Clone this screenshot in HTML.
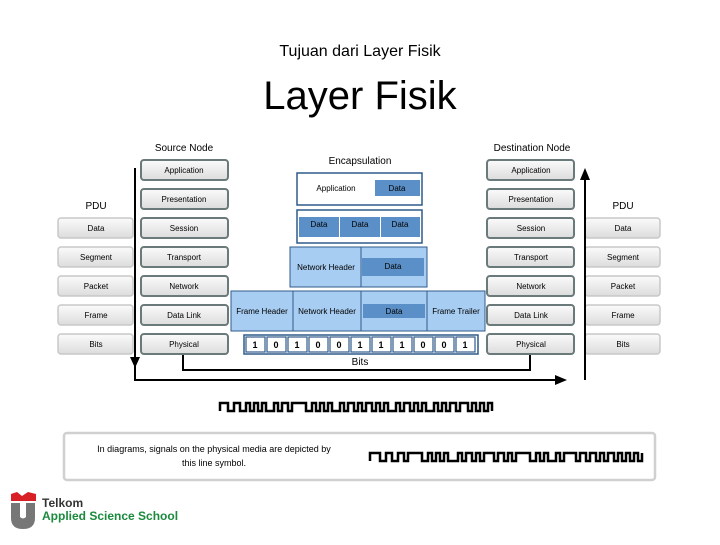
<!DOCTYPE html>
<html><head><meta charset="utf-8"><style>
body{margin:0;background:#fff;width:720px;height:540px;overflow:hidden;font-family:"Liberation Sans",sans-serif}
</style></head><body>
<svg width="720" height="540" xmlns="http://www.w3.org/2000/svg" font-family="Liberation Sans, sans-serif">
<defs>
<linearGradient id="g" x1="0" y1="0" x2="0" y2="1"><stop offset="0" stop-color="#fbfbfb"/><stop offset="1" stop-color="#dcdcdc"/></linearGradient>
</defs>
<text x="360" y="56" font-size="16" text-anchor="middle">Tujuan dari Layer Fisik</text>
<text x="360" y="109" font-size="40" text-anchor="middle">Layer Fisik</text>

<text x="184" y="151" font-size="10" text-anchor="middle">Source Node</text>
<text x="532" y="151" font-size="10" text-anchor="middle">Destination Node</text>
<text x="96" y="209" font-size="10" text-anchor="middle">PDU</text>
<text x="623" y="209" font-size="10" text-anchor="middle">PDU</text>
<text x="360" y="164" font-size="10" text-anchor="middle">Encapsulation</text>

<g font-size="8" text-anchor="middle">
<!-- layers -->
<g id="L">
<rect x="141" y="160" width="87" height="20" rx="3" fill="url(#g)" stroke="#6a7a7a" stroke-width="2"/>
<rect x="141" y="189" width="87" height="20" rx="3" fill="url(#g)" stroke="#6a7a7a" stroke-width="2"/>
<rect x="141" y="218" width="87" height="20" rx="3" fill="url(#g)" stroke="#6a7a7a" stroke-width="2"/>
<rect x="141" y="247" width="87" height="20" rx="3" fill="url(#g)" stroke="#6a7a7a" stroke-width="2"/>
<rect x="141" y="276" width="87" height="20" rx="3" fill="url(#g)" stroke="#6a7a7a" stroke-width="2"/>
<rect x="141" y="305" width="87" height="20" rx="3" fill="url(#g)" stroke="#6a7a7a" stroke-width="2"/>
<rect x="141" y="334" width="87" height="20" rx="3" fill="url(#g)" stroke="#6a7a7a" stroke-width="2"/>
</g>
<text x="184" y="173">Application</text><text x="184" y="202">Presentation</text><text x="184" y="231">Session</text><text x="184" y="260">Transport</text><text x="184" y="289">Network</text><text x="184" y="318">Data Link</text><text x="184" y="347">Physical</text>
<use href="#L" x="346"/>
<text x="531" y="173">Application</text><text x="531" y="202">Presentation</text><text x="531" y="231">Session</text><text x="531" y="260">Transport</text><text x="531" y="289">Network</text><text x="531" y="318">Data Link</text><text x="531" y="347">Physical</text>
<g id="P" fill="url(#g)" stroke="#c8c8c8" stroke-width="1.5">
<rect x="58" y="218" width="75" height="20" rx="3"/><rect x="58" y="247" width="75" height="20" rx="3"/><rect x="58" y="276" width="75" height="20" rx="3"/><rect x="58" y="305" width="75" height="20" rx="3"/><rect x="58" y="334" width="75" height="20" rx="3"/>
</g>
<use href="#P" x="527"/>
<text x="96" y="231">Data</text><text x="96" y="260">Segment</text><text x="96" y="289">Packet</text><text x="96" y="318">Frame</text><text x="96" y="347">Bits</text>
<text x="623" y="231">Data</text><text x="623" y="260">Segment</text><text x="623" y="289">Packet</text><text x="623" y="318">Frame</text><text x="623" y="347">Bits</text>

<!-- encapsulation -->
<rect x="297" y="173" width="125" height="32" fill="#fff" stroke="#2f5b8a" stroke-width="1.5"/>
<rect x="375" y="180" width="45" height="16" fill="#5b8fc7"/>
<text x="336" y="191">Application</text><text x="397" y="191">Data</text>
<rect x="297" y="210" width="125" height="33" fill="#fff" stroke="#2f5b8a" stroke-width="1.5"/>
<rect x="299" y="217" width="40" height="20" fill="#5b8fc7"/><rect x="340" y="217" width="40" height="20" fill="#5b8fc7"/><rect x="381" y="217" width="39" height="20" fill="#5b8fc7"/>
<text x="319" y="227">Data</text><text x="360" y="227">Data</text><text x="400" y="227">Data</text>
<rect x="290" y="247" width="137" height="40" fill="#a8cdf2" stroke="#2f5b8a" stroke-width="1"/>
<line x1="361" y1="247" x2="361" y2="287" stroke="#2f5b8a"/>
<rect x="362" y="258" width="62" height="18" fill="#5b8fc7"/>
<text x="326" y="270">Network Header</text><text x="393" y="269">Data</text>
<rect x="231" y="291" width="254" height="40" fill="#a8cdf2" stroke="#2f5b8a" stroke-width="1"/>
<line x1="293" y1="291" x2="293" y2="331" stroke="#2f5b8a"/><line x1="361" y1="291" x2="361" y2="331" stroke="#2f5b8a"/><line x1="427" y1="291" x2="427" y2="331" stroke="#2f5b8a"/>
<rect x="363" y="304" width="62" height="14" fill="#5b8fc7"/>
<text x="262" y="314">Frame Header</text><text x="327" y="314">Network Header</text><text x="394" y="314">Data</text><text x="456" y="314">Frame Trailer</text>
</g>
<!-- bits -->
<rect x="244" y="335" width="234" height="19" fill="#fff" stroke="#2f5b8a" stroke-width="1.5"/>
<g fill="#fff" stroke="#2f5b8a" stroke-width="1.2">
<rect x="246" y="337" width="19" height="15"/><rect x="267" y="337" width="19" height="15"/><rect x="288" y="337" width="19" height="15"/><rect x="309" y="337" width="19" height="15"/><rect x="330" y="337" width="19" height="15"/><rect x="351" y="337" width="19" height="15"/><rect x="372" y="337" width="19" height="15"/><rect x="393" y="337" width="19" height="15"/><rect x="414" y="337" width="19" height="15"/><rect x="435" y="337" width="19" height="15"/><rect x="456" y="337" width="19" height="15"/>
</g>
<g font-size="9" text-anchor="middle" font-weight="bold">
<text x="255" y="348">1</text><text x="276" y="348">0</text><text x="297" y="348">1</text><text x="318" y="348">0</text><text x="339" y="348">0</text><text x="360" y="348">1</text><text x="381" y="348">1</text><text x="402" y="348">1</text><text x="423" y="348">0</text><text x="444" y="348">0</text><text x="465" y="348">1</text>
</g>
<text x="360" y="365" font-size="10" text-anchor="middle">Bits</text>

<!-- lines -->
<g stroke="#000" stroke-width="2" fill="none">
<polyline points="135,168 135,362"/>
<polyline points="183,355 183,370 530,370 530,355"/>
<polyline points="135,366 135,380 560,380"/>
<polyline points="585,380 585,178"/>
</g>
<polygon points="130,357 140,357 135,368" fill="#000"/>
<polygon points="555,375 567,380 555,385" fill="#000"/>
<polygon points="580,180 590,180 585,168" fill="#000"/>

<!-- waveform -->
<g stroke="#000" stroke-width="2.5" fill="none">
<path d="M220,411 V403 H228 V411 H234 V403 H240 V411 H246 V403 H250 V411 H254 V403 H258 V411 H262 V403 H266 V411 H274 V403 H278 V411 H282 V403 H288 V411 H292 V403 H306 V411 H312 V403 H316 V411 H320 V403 H324 V411 H328 V403 H332 V411 H340 V403 H344 V411 H348 V403 H354 V411 H358 V403 H362 V411 H366 V403 H372 V411 H376 V403 H380 V411 H384 V403 H388 V411 H396 V403 H400 V411 H404 V403 H410 V411 H414 V403 H418 V411 H422 V403 H426 V411 H434 V403 H438 V411 H442 V403 H446 V411 H450 V403 H456 V411 H460 V403 H468 V411 H472 V403 H476 V411 H480 V403 H484 V411 H488 V403 H492 V411"/>
</g>
<rect x="64" y="433" width="591" height="47" rx="3" fill="#fff" stroke="#d0d0d0" stroke-width="2.5"/>
<text x="214" y="452" font-size="9" text-anchor="middle">In diagrams, signals on the physical media are depicted by</text>
<text x="214" y="466" font-size="9" text-anchor="middle">this line symbol.</text>
<path d="M370,461 V453 H380 V461 H386 V453 H392 V461 H398 V453 H404 V461 H408 V453 H422 V461 H428 V453 H432 V461 H436 V453 H440 V461 H444 V453 H448 V461 H458 V453 H462 V461 H466 V453 H472 V461 H476 V453 H480 V461 H484 V453 H494 V461 H498 V453 H504 V461 H508 V453 H512 V461 H516 V453 H530 V461 H536 V453 H540 V461 H544 V453 H548 V461 H556 V453 H560 V461 H564 V453 H576 V461 H580 V453 H586 V461 H590 V453 H596 V461 H600 V453 H604 V461 H608 V453 H614 V461 H618 V453 H622 V461 H626 V453 H630 V461 H634 V453 H638 V461 H642 V453" stroke="#000" stroke-width="2.5" fill="none"/>

<!-- logo -->
<path d="M11,494 L17,492 L22,496 L28,492 L36,494 L36,501 L11,501 Z" fill="#d81f26"/>
<path d="M11,503 H20 V517 Q23,520 26,517 V503 H35 V518 Q35,529 23,529 Q11,529 11,518 Z" fill="#777"/>
<text x="42" y="507" font-size="12" font-weight="bold" fill="#333">Telkom</text>
<text x="42" y="520" font-size="12" font-weight="bold" fill="#1a8a3c">Applied Science School</text>
</svg>
</body></html>
